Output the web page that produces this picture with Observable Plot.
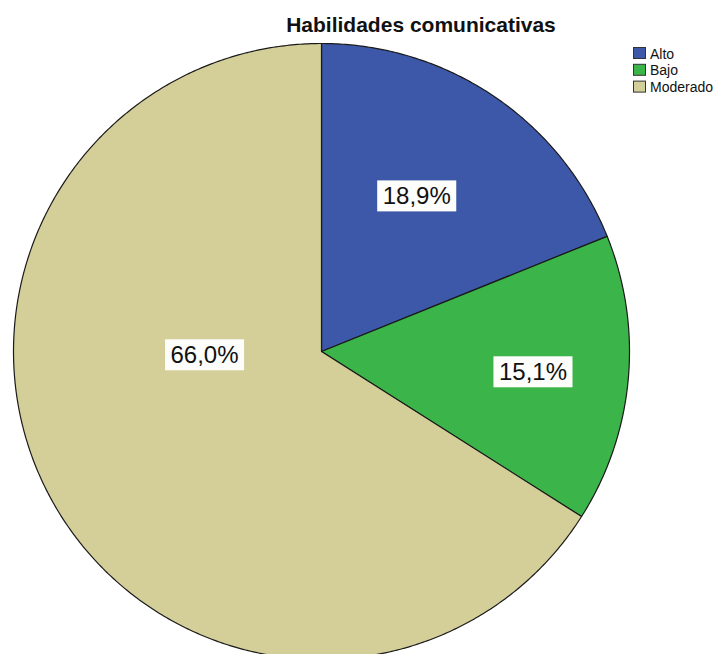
<!DOCTYPE html>
<html>
<head>
<meta charset="utf-8">
<script src="https://cdn.jsdelivr.net/npm/d3@7"></script>
<script src="https://cdn.jsdelivr.net/npm/@observablehq/plot@0.6"></script>
<style>
  html, body { margin: 0; padding: 0; background: #fff; }
  #chart { position: relative; width: 717px; height: 654px; overflow: hidden; }
  svg { font-family: Arial, "Liberation Sans", sans-serif; }
</style>
</head>
<body>
<div id="chart"></div>
<script>
// ---- data ----
const title = "Habilidades comunicativas";
const categories = ["Alto", "Bajo", "Moderado"];
const percents = [18.9, 15.1, 66.0];
const colors = ["#3d57a9", "#3bb54a", "#d4cf99"];

// ---- layout (label anchor placement, in polar fraction of radius) ----
const labelAngleDeg = [31.6, 95.7, 268];
const labelRadius = [0.59, 0.69, 0.38];

// build slice polygons (clockwise from 12 o'clock)
const total = d3.sum(percents);
let acc = 0;
const slices = categories.map((c, i) => {
  const a0 = acc / total * 2 * Math.PI;
  acc += percents[i];
  const a1 = acc / total * 2 * Math.PI;
  const n = Math.max(2, Math.ceil((a1 - a0) / (Math.PI / 360)));
  const pts = [{x: 0, y: 0}];
  for (let k = 0; k <= n; k++) {
    const a = a0 + (a1 - a0) * k / n;
    pts.push({x: Math.sin(a), y: Math.cos(a)});
  }
  pts.push({x: 0, y: 0});
  return {cat: c, color: colors[i], pts};
});

const labels = categories.map((c, i) => {
  const a = labelAngleDeg[i] * Math.PI / 180;
  return {
    cat: c,
    x: labelRadius[i] * Math.sin(a),
    y: labelRadius[i] * Math.cos(a),
    text: percents[i].toFixed(1).replace(".", ",") + "%"
  };
});

const plot = Plot.plot({
  width: 717,
  height: 654,
  margin: 0,
  style: {background: "transparent", overflow: "visible"},
  x: {domain: [-1, 1], range: [13, 629], axis: null},
  y: {domain: [-1, 1], range: [659, 43], axis: null},
  marks: [
    ...slices.map(s => Plot.line(s.pts, {
      x: "x", y: "y", fill: s.color, stroke: "#1a1a1a", strokeWidth: 1.2, curve: "linear-closed"
    })),
    Plot.text(labels, {
      x: "x", y: "y", text: "text", fontSize: 24, fill: "#111",
      fontFamily: "Arial, 'Liberation Sans', sans-serif"
    })
  ]
});

document.getElementById("chart").appendChild(plot);

const svgNode = plot.tagName.toLowerCase() === "svg" ? plot : plot.querySelector("svg");
const svg = d3.select(svgNode);

// white boxes behind the percentage labels
const pctNodes = Array.from(svgNode.querySelectorAll("text"));
pctNodes.forEach(node => {
  const b = node.getBBox();
  const padX = 5.5, padY = 3;
  const r = document.createElementNS("http://www.w3.org/2000/svg", "rect");
  r.setAttribute("x", b.x - padX);
  r.setAttribute("y", b.y - padY + 1);
  r.setAttribute("width", b.width + 2 * padX);
  r.setAttribute("height", b.height + 2 * padY - 2);
  r.setAttribute("fill", "#fdfdfb");
  const t = node.getAttribute("transform");
  if (t) r.setAttribute("transform", t);
  node.parentNode.insertBefore(r, node);
});

// title
svg.append("text")
  .attr("x", 421).attr("y", 32)
  .attr("text-anchor", "middle")
  .attr("font-size", 21).attr("font-weight", "bold").attr("fill", "#111")
  .text(title);

// legend
const lg = svg.append("g").attr("transform", "translate(633,47)").attr("text-anchor", "start");
categories.forEach((c, i) => {
  const g = lg.append("g").attr("transform", `translate(0,${i * 16.8})`);
  g.append("rect").attr("x", 0.5).attr("y", 0.5).attr("width", 12).attr("height", 11)
    .attr("fill", colors[i]).attr("stroke", "#333").attr("stroke-width", 1);
  g.append("text").attr("x", 17).attr("y", 11.5)
    .attr("font-size", 14).attr("fill", "#111").attr("text-anchor", "start").text(c);
});
</script>
</body>
</html>
